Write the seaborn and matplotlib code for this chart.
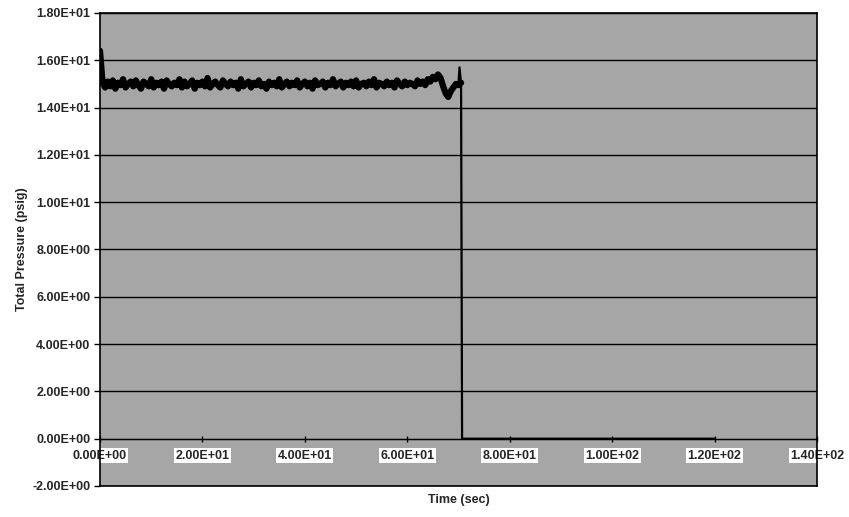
import numpy as np
import pandas as pd
import matplotlib
matplotlib.use("Agg")
import matplotlib.pyplot as plt
import seaborn as sns

# ---- data ----
sample_interval_s = 0.5
pressure_main = [
    16.4, 15.05, 14.85, 15.1, 14.9, 15.15, 14.8, 15.05, 14.95, 15.2, 14.85, 15.0,
    15.1, 14.9, 15.15, 14.95, 14.8, 15.1, 15.0, 14.9, 15.2, 14.85, 15.05, 14.95,
    15.1, 14.8, 15.15, 15.0, 14.9, 15.05, 14.95, 15.2, 14.85, 15.1, 14.9, 15.0,
    15.15, 14.8, 15.05, 14.95, 15.1, 14.9, 15.25, 14.85, 15.0, 15.1, 14.95, 14.85,
    15.15, 15.0, 14.9, 15.1, 14.95, 15.05, 14.8, 15.2, 14.9, 15.0, 15.1, 14.85,
    15.05, 14.95, 15.15, 14.9, 15.0, 14.8, 15.1, 14.95, 15.05, 14.9, 15.2, 14.85,
    15.0, 15.1, 14.9, 15.05, 14.95, 15.15, 14.85, 15.0, 15.1, 14.9, 15.05, 14.8,
    15.15, 14.95, 15.0, 15.1, 14.85, 15.05, 14.95, 15.2, 14.9, 15.0, 15.1, 14.85,
    15.05, 14.95, 15.1, 14.9, 15.15, 14.85, 15.0, 15.05, 14.9, 15.1, 14.95, 15.2,
    14.85, 15.05, 15.0, 14.9, 15.1, 14.95, 15.05, 14.85, 15.15, 15.0, 14.9, 15.1,
    14.95, 15.05, 15.0, 14.9, 15.15, 15.0, 15.1, 14.95, 15.2,
    15.1, 15.3, 15.2, 15.4, 15.25, 14.9, 14.6, 14.45, 14.7, 14.85, 15.0, 14.95, 15.05,
]
tail_time = [70.0, 70.2, 70.5, 70.7, 120.0]
tail_pressure = [15.05, 15.7, 15.0, 0.0, 0.0]

x_ticks = [0, 20, 40, 60, 80, 100, 120, 140]
y_ticks = [-2, 0, 2, 4, 6, 8, 10, 12, 14, 16, 18]
x_title = "Time (sec)"
y_title = "Total Pressure (psig)"

time_main = [i * sample_interval_s for i in range(len(pressure_main))]
df_main = pd.DataFrame({"time": time_main, "pressure": pressure_main})
df_tail = pd.DataFrame({"time": tail_time, "pressure": tail_pressure})

# ---- figure ----
sns.set_style("white")
plt.rcParams["font.family"] = ["Liberation Sans", "DejaVu Sans"]
plt.rcParams["font.weight"] = "bold"

fig = plt.figure(figsize=(8.49, 5.17), dpi=100)
ax = fig.add_axes([100 / 849, 31 / 517, 717 / 849, 473 / 517])
ax.set_facecolor("#a6a6a6")

sns.lineplot(data=df_main, x="time", y="pressure", ax=ax, color="black",
             linewidth=4.5, sort=False, estimator=None)
sns.lineplot(data=df_tail, x="time", y="pressure", ax=ax, color="black",
             linewidth=1.6, sort=False, estimator=None)

ax.set_xlim(0, 140)
ax.set_ylim(-2, 18)
ax.set_yticks(y_ticks)
ax.set_yticklabels([f"{v:.2E}" for v in y_ticks], fontsize=9, fontweight="bold")
ax.yaxis.grid(True, color="black", linewidth=1.0)
ax.xaxis.grid(False)
ax.set_axisbelow(True)
ax.tick_params(axis="y", left=True, length=4, width=1, color="black", pad=3)
ax.tick_params(axis="x", bottom=False, labelbottom=False)
for s in ax.spines.values():
    s.set_color("black")
    s.set_linewidth(1.2)

ax.set_xlabel(x_title, fontsize=9, fontweight="bold", labelpad=6)
ax.set_ylabel(y_title, fontsize=9, fontweight="bold", labelpad=3)

# x axis crossing at y = 0
sec = ax.secondary_xaxis(2 / 20)
sec.set_xticks(x_ticks)
sec.set_xticklabels([f"{v:.2E}" for v in x_ticks], fontsize=9, fontweight="bold")
sec.tick_params(axis="x", length=4, width=1, direction="inout", pad=6, color="black")
sec.spines["bottom"].set_color("black")
for lbl in sec.get_xticklabels():
    lbl.set_bbox(dict(facecolor="white", edgecolor="none", pad=1.0))

fig.savefig("out.png", dpi=100)
